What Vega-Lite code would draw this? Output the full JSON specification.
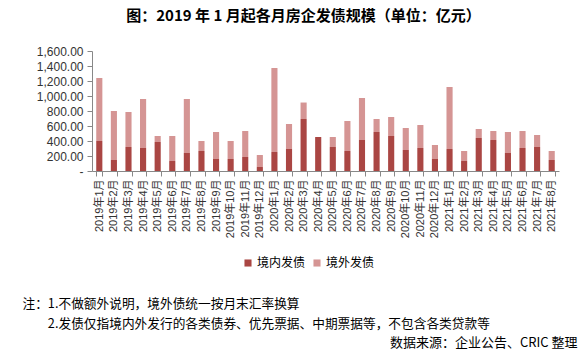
{
  "$schema": "https://vega.github.io/schema/vega-lite/v6.json",
  "width": 467,
  "height": 120,
  "autosize": {"type": "none"},
  "padding": {"left": 92, "top": 51, "right": 21, "bottom": 186},
  "background": "white",
  "title": {
    "text": "图：2019 年 1 月起各月房企发债规模（单位：亿元）",
    "anchor": "middle",
    "dx": -22,
    "offset": 21,
    "font": "Noto Sans CJK SC",
    "fontSize": 15,
    "fontWeight": "bold",
    "color": "#000000"
  },
  "data": {
    "values": [
      {"月份": "2019年1月", "类型": "境内发债", "值": 400}, {"月份": "2019年1月", "类型": "境外发债", "值": 840},
      {"月份": "2019年2月", "类型": "境内发债", "值": 147}, {"月份": "2019年2月", "类型": "境外发债", "值": 653},
      {"月份": "2019年3月", "类型": "境内发债", "值": 320}, {"月份": "2019年3月", "类型": "境外发债", "值": 467},
      {"月份": "2019年4月", "类型": "境内发债", "值": 307}, {"月份": "2019年4月", "类型": "境外发债", "值": 653},
      {"月份": "2019年5月", "类型": "境内发债", "值": 387}, {"月份": "2019年5月", "类型": "境外发债", "值": 80},
      {"月份": "2019年6月", "类型": "境内发债", "值": 133}, {"月份": "2019年6月", "类型": "境外发债", "值": 334},
      {"月份": "2019年7月", "类型": "境内发债", "值": 240}, {"月份": "2019年7月", "类型": "境外发债", "值": 720},
      {"月份": "2019年8月", "类型": "境内发债", "值": 267}, {"月份": "2019年8月", "类型": "境外发债", "值": 133},
      {"月份": "2019年9月", "类型": "境内发债", "值": 160}, {"月份": "2019年9月", "类型": "境外发债", "值": 360},
      {"月份": "2019年10月", "类型": "境内发债", "值": 160}, {"月份": "2019年10月", "类型": "境外发债", "值": 240},
      {"月份": "2019年11月", "类型": "境内发债", "值": 187}, {"月份": "2019年11月", "类型": "境外发债", "值": 346},
      {"月份": "2019年12月", "类型": "境内发债", "值": 53}, {"月份": "2019年12月", "类型": "境外发债", "值": 160},
      {"月份": "2020年1月", "类型": "境内发债", "值": 253}, {"月份": "2020年1月", "类型": "境外发债", "值": 1120},
      {"月份": "2020年2月", "类型": "境内发债", "值": 293}, {"月份": "2020年2月", "类型": "境外发债", "值": 334},
      {"月份": "2020年3月", "类型": "境内发债", "值": 693}, {"月份": "2020年3月", "类型": "境外发债", "值": 220},
      {"月份": "2020年4月", "类型": "境内发债", "值": 453}, {"月份": "2020年4月", "类型": "境外发债", "值": 0},
      {"月份": "2020年5月", "类型": "境内发债", "值": 320}, {"月份": "2020年5月", "类型": "境外发债", "值": 133},
      {"月份": "2020年6月", "类型": "境内发债", "值": 267}, {"月份": "2020年6月", "类型": "境外发债", "值": 400},
      {"月份": "2020年7月", "类型": "境内发债", "值": 413}, {"月份": "2020年7月", "类型": "境外发债", "值": 560},
      {"月份": "2020年8月", "类型": "境内发债", "值": 520}, {"月份": "2020年8月", "类型": "境外发债", "值": 173},
      {"月份": "2020年9月", "类型": "境内发债", "值": 467}, {"月份": "2020年9月", "类型": "境外发债", "值": 253},
      {"月份": "2020年10月", "类型": "境内发债", "值": 280}, {"月份": "2020年10月", "类型": "境外发债", "值": 293},
      {"月份": "2020年11月", "类型": "境内发债", "值": 307}, {"月份": "2020年11月", "类型": "境外发债", "值": 306},
      {"月份": "2020年12月", "类型": "境内发债", "值": 160}, {"月份": "2020年12月", "类型": "境外发债", "值": 187},
      {"月份": "2021年1月", "类型": "境内发债", "值": 293}, {"月份": "2021年1月", "类型": "境外发债", "值": 827},
      {"月份": "2021年2月", "类型": "境内发债", "值": 133}, {"月份": "2021年2月", "类型": "境外发债", "值": 134},
      {"月份": "2021年3月", "类型": "境内发债", "值": 440}, {"月份": "2021年3月", "类型": "境外发债", "值": 120},
      {"月份": "2021年4月", "类型": "境内发债", "值": 413}, {"月份": "2021年4月", "类型": "境外发债", "值": 120},
      {"月份": "2021年5月", "类型": "境内发债", "值": 240}, {"月份": "2021年5月", "类型": "境外发债", "值": 280},
      {"月份": "2021年6月", "类型": "境内发债", "值": 307}, {"月份": "2021年6月", "类型": "境外发债", "值": 226},
      {"月份": "2021年7月", "类型": "境内发债", "值": 320}, {"月份": "2021年7月", "类型": "境外发债", "值": 160},
      {"月份": "2021年8月", "类型": "境内发债", "值": 147}, {"月份": "2021年8月", "类型": "境外发债", "值": 120}
    ]
  },
  "mark": {"type": "bar"},
  "encoding": {
    "x": {
      "field": "月份",
      "type": "nominal",
      "sort": null,
      "scale": {"paddingInner": 0.58, "paddingOuter": 0.29},
      "axis": {
        "title": ["注：1.不做额外说明，境外债统一按月末汇率换算", "\u200b　　2.发债仅指境内外发行的各类债券、优先票据、中期票据等，不包含各类贷款等"],
        "titleX": -70,
        "titleY": 126,
        "titleAlign": "left",
        "titleAngle": 0,
        "titleBaseline": "top",
        "titleFont": "Noto Sans CJK SC",
        "titleFontWeight": "normal",
        "titleFontSize": 12.7,
        "titleLineHeight": 20,
        "titleColor": "#000000",
        "labelAngle": -90,
        "labelFont": "Liberation Sans, Noto Sans CJK SC",
        "labelFontSize": 11,
        "labelColor": "#333333",
        "labelPadding": 3,
        "tickBand": "extent",
        "tickColor": "#888888",
        "tickSize": 5,
        "domainColor": "#888888",
        "grid": false
      }
    },
    "y": {
      "field": "值",
      "type": "quantitative",
      "stack": "zero",
      "scale": {"domain": [0, 1600], "nice": false},
      "axis": {
        "title": "数据来源：企业公告、CRIC 整理",
        "titleAngle": 0,
        "titleX": 485,
        "titleY": 285,
        "titleAlign": "right",
        "titleBaseline": "top",
        "titleFont": "Noto Sans CJK SC",
        "titleFontWeight": "normal",
        "titleFontSize": 13,
        "titleColor": "#000000",
        "values": [0, 200, 400, 600, 800, 1000, 1200, 1400, 1600],
        "labelExpr": "datum.value == 0 ? '-' : format(datum.value, ',.2f')",
        "labelFont": "Liberation Sans",
        "labelFontSize": 12,
        "labelColor": "#333333",
        "labelPadding": 4,
        "tickSize": 5,
        "tickColor": "#888888",
        "domainColor": "#888888",
        "grid": false
      }
    },
    "color": {
      "field": "类型",
      "type": "nominal",
      "scale": {"domain": ["境内发债", "境外发债"], "range": ["#AA4643", "#D59594"]},
      "legend": {
        "title": null,
        "orient": "none",
        "legendX": 150,
        "legendY": 206,
        "direction": "horizontal",
        "symbolType": "square",
        "symbolSize": 50,
        "symbolStrokeWidth": 0,
        "labelFont": "Noto Sans CJK SC",
        "labelFontSize": 12,
        "labelColor": "#000000",
        "labelOffset": 3,
        "columnPadding": 5
      }
    },
    "order": {"field": "类型", "sort": "ascending"}
  },
  "config": {"view": {"stroke": null}}
}
